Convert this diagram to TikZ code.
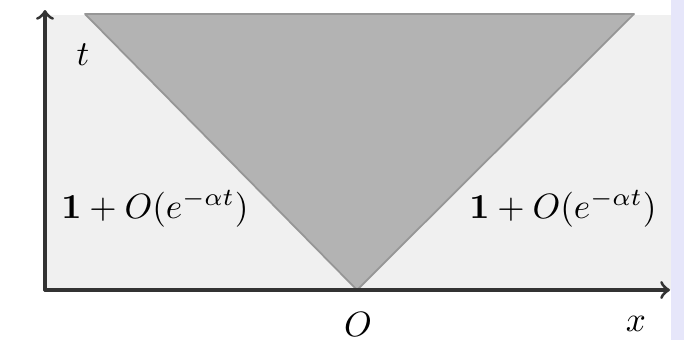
\documentclass[tikz,border=0pt]{standalone}
\usepackage{amsmath}
\definecolor{fondo}{RGB}{240,240,240}
\definecolor{cono}{RGB}{179,179,179}
\definecolor{bordo}{RGB}{150,150,150}
\definecolor{lavanda}{RGB}{230,230,250}
\begin{document}
\begin{tikzpicture}[line cap=round, line join=round,
    asse/.style={line width=0.9pt, draw=black!80, ->, >=to},
    etichetta/.style={inner sep=1pt}]

    % Riquadro esterno e striscia a destra
    \useasboundingbox (0,0) rectangle (6.84,3.4);
    \fill[lavanda] (6.71,0) rectangle (6.84,3.4);

    % Sfondo grigio chiaro
    \fill[fondo] (0.45,0.5) rectangle (6.71,3.25);

    % Cono (triangolo grigio)
    \coordinate (O) at (3.57,0.5);
    \filldraw[fill=cono, draw=bordo, line width=0.5pt] (0.85,3.26) -- (6.34,3.26) -- (O) -- cycle;

    % Assi
    \coordinate (orig) at (0.45,0.5);
    \coordinate (tfin) at (0.45,3.3);
    \coordinate (xfin) at (6.70,0.5);
    \draw[asse] (orig) -- (tfin);
    \draw[asse] (orig) -- (xfin);

    % Etichette
    \node[etichetta] (tlab) at (0.83,2.85) {$t$};
    \node[etichetta] (olab) at (3.58,0.16) {$O$};
    \node[etichetta] (xlab) at (6.36,0.16) {$x$};
    \node[etichetta] (sx) at (1.55,1.31) {$\mathbf{1}+O(e^{-\alpha t})$};
    \node[etichetta] (dx) at (5.63,1.31) {$\mathbf{1}+O(e^{-\alpha t})$};

\end{tikzpicture}
\end{document}
